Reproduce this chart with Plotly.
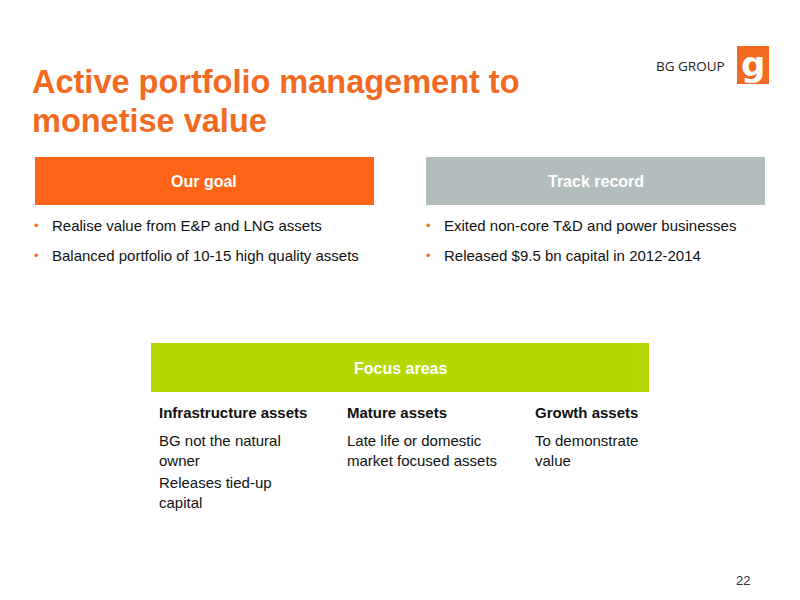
import plotly.graph_objects as go

# slide content
title_lines = ["Active portfolio management to", "monetise value"]
goal_header = "Our goal"
goal_points = ["Realise value from E&P and LNG assets",
               "Balanced portfolio of 10-15 high quality assets"]
track_header = "Track record"
track_points = ["Exited non-core T&D and power businesses",
                "Released $9.5 bn capital in 2012-2014"]
focus_header = "Focus areas"
focus_titles = ["Infrastructure assets", "Mature assets", "Growth assets"]
focus_texts = [["BG not the natural<br>owner", "Releases tied-up<br>capital"],
               ["Late life or domestic<br>market focused assets"],
               ["To demonstrate<br>value"]]
page_no = "22"

ORANGE = "#F26A1F"
FONT = "Liberation Sans, Arial, sans-serif"
OFF = 8  # page body margin

fig = go.Figure()
shapes = []
ann = []


def text(x, y, s, size=14, color="#222", bold=False, xanchor="left", yanchor="top", font=FONT):
    ann.append(dict(x=x - OFF, y=y - OFF, text=f"<b>{s}</b>" if bold else s, showarrow=False,
                    xanchor=xanchor, yanchor=yanchor, align="left",
                    font=dict(size=size, color=color, family=font)))


def box(x0, y0, x1, y1, color):
    shapes.append(dict(type="rect", x0=x0 - OFF, y0=y0 - OFF, x1=x1 - OFF, y1=y1 - OFF,
                       fillcolor=color, line_width=0, layer="below"))


# title
text(30, 82, title_lines[0], 32.5, ORANGE, True, yanchor="middle")
text(30, 121, title_lines[1], 32.5, ORANGE, True, yanchor="middle")

# logo
text(727, 66, "BG GROUP", 13.5, "#222", xanchor="right", yanchor="middle", font="Open Sans")
box(737, 46, 769, 84, ORANGE)
text(753, 64, "g", 34, "white", True, xanchor="center", yanchor="middle", font="DejaVu Sans")

# header boxes
box(35, 157, 374, 205, "#FF6418")
text(204, 181, goal_header, 16, "white", True, "center", "middle")
box(426, 157, 765, 205, "#B2BEBE")
text(596, 181, track_header, 16, "white", True, "center", "middle")

for i, p in enumerate(goal_points):
    y = 225 + i * 30
    text(32, y, "•", 13, ORANGE, yanchor="middle")
    text(50, y, p, 15, "#111", yanchor="middle")
for i, p in enumerate(track_points):
    y = 225 + i * 30
    text(424, y, "•", 13, ORANGE, yanchor="middle")
    text(442, y, p, 15, "#111", yanchor="middle")

# focus areas
box(151, 343, 649, 392, "#B4D800")
text(400, 368, focus_header, 16, "white", True, "center", "middle")
cols = [157, 345, 533]
for x, t, lines in zip(cols, focus_titles, focus_texts):
    text(x, 412, t, 15, "#111", True, yanchor="middle")
    y = 430
    for ln in lines:
        text(x, y, ln, 15, "#111")
        y += 42

text(752, 580, page_no, 13, "#333", xanchor="right", yanchor="middle")

fig.update_layout(
    width=800, height=600, margin=dict(l=0, r=0, t=0, b=0),
    plot_bgcolor="white", paper_bgcolor="white", showlegend=False,
    xaxis=dict(range=[0, 800], visible=False, fixedrange=True),
    yaxis=dict(range=[600, 0], visible=False, fixedrange=True),
    shapes=shapes, annotations=ann,
)
fig.write_html("out.html")
